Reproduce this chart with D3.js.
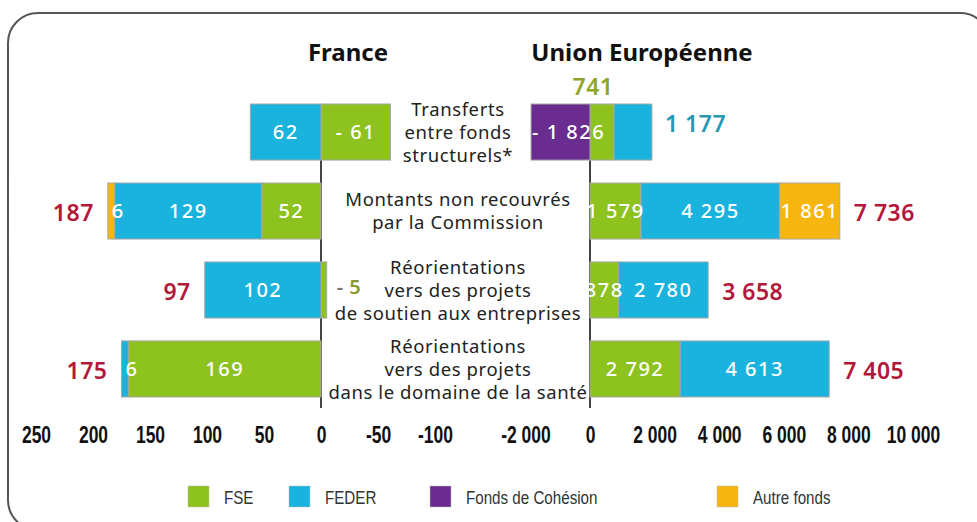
<!DOCTYPE html>
<html>
<head>
<meta charset="utf-8">
<script src="https://cdn.jsdelivr.net/npm/d3@7"></script>
<style>
	body { margin: 0; background: #fff; }
	svg { display: block; }
	.cat { font-family: "Noto Sans", sans-serif; font-size: 18.5px; fill: #222; letter-spacing: 0.6px; }
	.title { font-family: "Noto Sans", sans-serif; font-size: 24px; font-weight: 700; fill: #111; }
	.inbar { font-family: "Noto Sans", sans-serif; font-size: 20px; font-weight: 500; fill: #fff; letter-spacing: 1.5px; }
	.total { font-family: "Noto Sans", sans-serif; font-size: 23px; font-weight: 600; fill: #b3183a; letter-spacing: 0.5px; }
	.tick text { font-family: "Liberation Sans", Arial, sans-serif; font-size: 23px; font-weight: 700; fill: #111; }
	.legend { font-family: "Liberation Sans", Arial, sans-serif; font-size: 18.5px; fill: #333; }
</style>
</head>
<body>
<svg id="chart" width="977" height="522"></svg>
<script>
// data
var categories = ["transferts", "non_recouvres", "entreprises", "sante"];
var categoryLines = [
	["Transferts", "entre fonds", "structurels*"],
	["Montants non recouvrés", "par la Commission"],
	["Réorientations", "vers des projets", "de soutien aux entreprises"],
	["Réorientations", "vers des projets", "dans le domaine de la santé"]
];
var funds = ["FSE", "FEDER", "Cohesion", "Autre"];
var fundNames = ["FSE", "FEDER", "Fonds de Cohésion", "Autre fonds"];

var franceFSE = [-61, 52, -5, 169];
var franceFEDER = [62, 129, 102, 6];
var franceCohesion = [0, 0, 0, 0];
var franceAutre = [0, 6, 0, 0];
var franceTotal = [null, 187, 97, 175];

var euFSE = [741, 1579, 878, 2792];
var euFEDER = [1177, 4295, 2780, 4613];
var euCohesion = [-1826, 0, 0, 0];
var euAutre = [0, 1861, 0, 0];
var euTotal = [null, 7736, 3658, 7405];

var franceTicks = [250, 200, 150, 100, 50, 0, -50, -100];
var euTicks = [-2000, 0, 2000, 4000, 6000, 8000, 10000];

var colors = { FSE: "#8dc21f", FEDER: "#19b3dd", Cohesion: "#6a2d8f", Autre: "#f7b50f" };

var locale = d3.formatLocale({ decimal: ",", thousands: "\u00a0", grouping: [3], currency: ["", " €"], minus: "-" });
var fmt = locale.format(",d");
function label(v) {
	return v < 0 ? "- " + fmt(-v) : fmt(v);
}

var svg = d3.select("#chart");

// frame
svg.append("rect")
	.attr("x", 8).attr("y", 13)
	.attr("width", 982).attr("height", 517)
	.attr("rx", 30).attr("ry", 30)
	.attr("fill", "none")
	.attr("stroke", "#555")
	.attr("stroke-width", 2);

var y = d3.scaleBand()
	.domain(categories)
	.range([104, 397])
	.paddingInner(0.29);

var xFr = d3.scaleLinear().domain([250, -100]).range([36, 435]);
var xEu = d3.scaleLinear().domain([-2000, 10000]).range([525.4, 913]);

function rows(fse, feder, coh, autre) {
	return categories.map(function(c, i) {
		return { cat: c, FSE: fse[i], FEDER: feder[i], Cohesion: coh[i], Autre: autre[i] };
	});
}

var stack = d3.stack().keys(funds).offset(d3.stackOffsetDiverging);
var frStack = stack(rows(franceFSE, franceFEDER, franceCohesion, franceAutre));
var euStack = stack(rows(euFSE, euFEDER, euCohesion, euAutre));

// axis lines
svg.append("line")
	.attr("x1", xFr(0)).attr("x2", xFr(0))
	.attr("y1", y.range()[0]).attr("y2", 408)
	.attr("stroke", "#444").attr("stroke-width", 2);
svg.append("line")
	.attr("x1", xEu(0)).attr("x2", xEu(0))
	.attr("y1", y.range()[0]).attr("y2", 408)
	.attr("stroke", "#444").attr("stroke-width", 2);

function drawBars(layers, x) {
	var g = svg.append("g");
	layers.forEach(function(layer) {
		g.selectAll(null)
			.data(layer.filter(function(d) { return d[1] - d[0] != 0; }))
			.enter().append("rect")
			.attr("x", function(d) { return Math.min(x(d[0]), x(d[1])); })
			.attr("y", function(d) { return y(d.data.cat); })
			.attr("width", function(d) { return Math.abs(x(d[1]) - x(d[0])); })
			.attr("height", y.bandwidth())
			.attr("fill", colors[layer.key])
			.attr("stroke", "#a8a8a8")
			.attr("stroke-width", 1);
	});
}
drawBars(frStack, xFr);
drawBars(euStack, xEu);

// labels inside the bars
function drawInBar(layers, x, skip) {
	layers.forEach(function(layer) {
		layer.forEach(function(d, i) {
			var v = d.data[layer.key];
			if (v == 0 || skip(layer.key, i)) return;
			var x0 = Math.min(x(d[0]), x(d[1])), x1 = Math.max(x(d[0]), x(d[1]));
			var w = x1 - x0;
			var t = svg.append("text")
				.attr("class", "inbar")
				.attr("y", y(d.data.cat) + y.bandwidth() / 2)
				.attr("dy", "0.36em")
				.text(label(v));
			if (w < 20) {
				t.attr("x", x0 + 4).attr("text-anchor", "start");
			} else if (layer.key == "Cohesion") {
				t.attr("x", x0 + 1).attr("text-anchor", "start");
			} else {
				t.attr("x", (x0 + x1) / 2).attr("text-anchor", "middle");
			}
		});
	});
}
drawInBar(frStack, xFr, function(key, i) { return key == "FSE" && i == 2; });
drawInBar(euStack, xEu, function(key, i) { return i == 0 && key != "Cohesion"; });

// labels outside the bars
var midFirst = y(categories[0]) + y.bandwidth() / 2;
svg.append("text")
	.attr("class", "total")
	.attr("x", xEu(0) + 3)
	.attr("y", y(categories[0]) - 17)
	.attr("dy", "0.36em")
	.attr("text-anchor", "middle")
	.style("fill", "#8fa52a")
	.text(fmt(euFSE[0]));
svg.append("text")
	.attr("class", "total")
	.attr("x", xEu(euFSE[0] + euFEDER[0]) + 13)
	.attr("y", midFirst - 8)
	.attr("dy", "0.36em")
	.style("fill", "#2897b4")
	.text(fmt(euFEDER[0]));

var minus5 = svg.append("text")
	.attr("class", "total")
	.attr("x", xFr(franceFSE[2]) + 10)
	.attr("y", y(categories[2]) + y.bandwidth() / 2 - 3)
	.attr("dy", "0.36em")
	.style("font-size", "20px");
minus5.append("tspan").style("fill", "#777").text("- ");
minus5.append("tspan").style("fill", "#8b9a2e").text(fmt(-franceFSE[2]));

// totals
categories.forEach(function(c, i) {
	var cy = y(c) + y.bandwidth() / 2;
	if (franceTotal[i] != null) {
		var left = d3.min(frStack, function(l) { return xFr(l[i][1]); });
		svg.append("text")
			.attr("class", "total")
			.attr("x", left - 14)
			.attr("y", cy + 2)
			.attr("dy", "0.36em")
			.attr("text-anchor", "end")
			.text(fmt(franceTotal[i]));
	}
	if (euTotal[i] != null) {
		var right = d3.max(euStack, function(l) { return xEu(l[i][1]); });
		svg.append("text")
			.attr("class", "total")
			.attr("x", right + 14)
			.attr("y", cy + 2)
			.attr("dy", "0.36em")
			.text(fmt(euTotal[i]));
	}
});

// category labels
categories.forEach(function(c, i) {
	var lines = categoryLines[i];
	var cy = y(c) + y.bandwidth() / 2;
	var t = svg.append("text")
		.attr("class", "cat")
		.attr("text-anchor", "middle");
	lines.forEach(function(s, j) {
		t.append("tspan")
			.attr("x", 458)
			.attr("y", cy + (j - (lines.length - 1) / 2) * 23)
			.attr("dy", "0.36em")
			.text(s);
	});
});

// titles
svg.append("text").attr("class", "title")
	.attr("x", 348).attr("y", 52).attr("dy", "0.36em")
	.attr("text-anchor", "middle").text("France");
svg.append("text").attr("class", "title")
	.attr("x", 642).attr("y", 52).attr("dy", "0.36em")
	.attr("text-anchor", "middle").text("Union Européenne");

// axes (tick labels only, condensed look)
var frAxis = d3.axisBottom(xFr).tickValues(franceTicks).tickSize(0).tickPadding(2).tickFormat(locale.format(",d"));
var euAxis = d3.axisBottom(xEu).tickValues(euTicks).tickSize(0).tickPadding(2).tickFormat(locale.format(",d"));
svg.append("g").attr("transform", "translate(0,425)").call(frAxis)
	.call(function(g) { g.select(".domain").remove(); });
svg.append("g").attr("transform", "translate(0,425)").call(euAxis)
	.call(function(g) { g.select(".domain").remove(); });
svg.selectAll(".tick text")
	.attr("font-family", null).attr("font-size", null)
	.attr("transform", "scale(0.76,1)");

// legend
var legendX = [188, 289, 430, 717];
var legend = svg.append("g");
funds.forEach(function(f, i) {
	legend.append("rect")
		.attr("x", legendX[i]).attr("y", 486)
		.attr("width", 21).attr("height", 21)
		.attr("fill", colors[f])
		.attr("stroke", "#bbb").attr("stroke-width", 0.5);
	legend.append("text")
		.attr("class", "legend")
		.attr("transform", "translate(" + (legendX[i] + 36) + ",497) scale(0.82,1)")
		.attr("dy", "0.36em")
		.text(fundNames[i]);
});
</script>
</body>
</html>
